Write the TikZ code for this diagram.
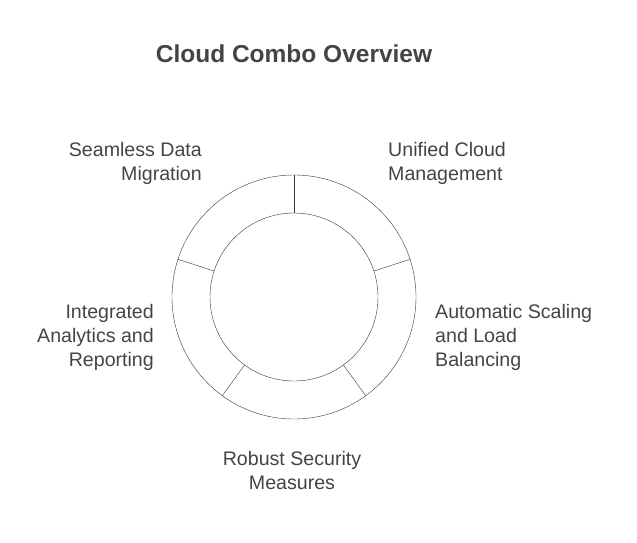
\documentclass[tikz,border=0pt]{standalone}
\usepackage{fontspec}
\setmainfont{Liberation Sans}
\usetikzlibrary{calc}
\definecolor{txtgray}{HTML}{444444}
\begin{document}
\begin{tikzpicture}[x=1pt, y=-1pt, lbl/.style = {text=txtgray, font=\fontsize{19.6}{24}\selectfont, inner sep=0pt}]
    \useasboundingbox (0,0) rectangle (637,542);
    \coordinate (c) at (294,297);
    \draw[txtgray!80!black] (c) circle (122);
    \draw[txtgray!80!black] (c) circle (84);
    \foreach \a in {-90,-18,54,126,198}
        \draw[txtgray!80!black] ($(c)+(\a:84)$) -- ($(c)+(\a:122)$);
    \node (title) at (294,54) [text=txtgray, font=\fontsize{24.5}{28}\selectfont\bfseries]{Cloud Combo Overview};
    \node (seamless) at (202,163) [lbl, anchor=east, align=right]{Seamless Data\\Migration};
    \node (unified) at (388,163) [lbl, anchor=west, align=left]{Unified Cloud\\Management};
    \node (scaling) at (435,337) [lbl, anchor=west, align=left]{Automatic Scaling\\and Load\\Balancing};
    \node (analytics) at (154,337) [lbl, anchor=east, align=right]{Integrated\\Analytics and\\Reporting};
    \node (security) at (292,470) [lbl, align=center]{Robust Security\\Measures};
\end{tikzpicture}
\end{document}
